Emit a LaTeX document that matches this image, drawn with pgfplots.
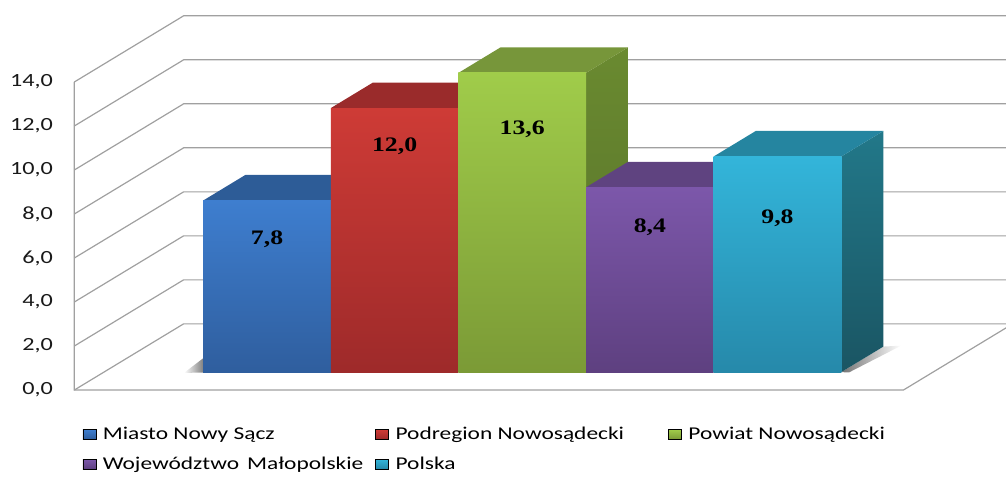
\documentclass[border=0pt]{standalone}
\usepackage{pgfplots}
\pgfplotsset{compat=1.18}
\usepackage{pgfplotstable}
\usepackage{fontspec}
\setmainfont{Carlito}[FakeStretch=1.3]
\newfontfamily\labfont{Liberation Serif}[FakeStretch=1.25]

% front top / front bottom / top face / side top / side bottom
\definecolor{fT0}{HTML}{3E7ECF}\definecolor{fB0}{HTML}{2F5E9E}\definecolor{tp0}{HTML}{2D5C97}\definecolor{sT0}{HTML}{2A5590}\definecolor{sB0}{HTML}{1F3F6E}
\definecolor{fT1}{HTML}{CE3B36}\definecolor{fB1}{HTML}{9E2A2A}\definecolor{tp1}{HTML}{9A2B2B}\definecolor{sT1}{HTML}{8A2626}\definecolor{sB1}{HTML}{6A1C1C}
\definecolor{fT2}{HTML}{A0CC4A}\definecolor{fB2}{HTML}{7B9A36}\definecolor{tp2}{HTML}{77963A}\definecolor{sT2}{HTML}{6A8A30}\definecolor{sB2}{HTML}{56702A}
\definecolor{fT3}{HTML}{7C57AA}\definecolor{fB3}{HTML}{5E4080}\definecolor{tp3}{HTML}{5F4380}\definecolor{sT3}{HTML}{553A75}\definecolor{sB3}{HTML}{402C58}
\definecolor{fT4}{HTML}{33B5DA}\definecolor{fB4}{HTML}{2689AA}\definecolor{tp4}{HTML}{2585A0}\definecolor{sT4}{HTML}{227889}\definecolor{sB4}{HTML}{1A5563}
\definecolor{gridc}{HTML}{A0A0A0}

% bar values and label heights (front-plane units)
\pgfplotstableread{
x      v     ly     lab
1.511  7.8   6.86   7,8
2.511  12.0  11.10  12,0
3.511  13.6  11.86  13,6
4.511  8.4   7.40   8,4
5.511  9.8   7.80   9,8
}\bars

\def\barx{1.011}  % left edge of first bar
\def\ybase{0.818} % bar bottom in front-plane units
\def\dx{0.33}     % bar depth
\def\dy{1.16}
\def\wx{0.857}    % wall depth
\def\wy{3.01}

\begin{document}
\begin{tikzpicture}
\begin{axis}[
  x=63.8pt, y=11pt,
  xmin=-0.58, xmax=7.30, ymin=-3.64, ymax=17.73,
  axis line style={draw=none},
  major tick length=0pt,
  xtick=\empty,
  ytick={0,2,4,6,8,10,12,14},
  /pgf/number format/.cd, fixed, fixed zerofill, precision=1, use comma, assume math mode=true,
  /pgfplots/.cd,
  yticklabel style={font=\fontsize{9.3}{10}\selectfont, anchor=east, inner sep=0pt, xshift=26.5pt, text=black!90},
  legend columns=3,
  legend style={draw=none, fill=none, at={(axis description cs:0.0815,0.102)}, anchor=north west,
    inner sep=0pt, font=\fontsize{9}{10}\selectfont, row sep=3.2pt,
    /tikz/every even column/.append style={column sep=0pt}},
  legend cell align=left,
  legend image code/.code={\path[#1] (0pt,-2.4pt) rectangle (6.5pt,2.4pt);},
]
% walls and floor
\pgfplotsinvokeforeach{0,2,4,6,8,10,12,14}{
  \draw[gridc, line width=0.6pt] (axis cs:0,#1) -- (axis cs:\wx,{#1+\wy}) -- (axis cs:7.5,{#1+\wy});
}
\draw[gridc, line width=0.6pt] (axis cs:0,14) -- (axis cs:0,0) -- (axis cs:6.497,0) -- (axis cs:7.354,\wy);

% soft floor shadows
\addplot[forget plot, draw=none, left color=black!55, right color=white] coordinates {(6.011,0.818) (6.341,1.978) (6.48,2.02) (6.07,0.80)};
\addplot[forget plot, draw=none, left color=white, right color=black!50] coordinates {(1.011,0.80) (0.86,0.78) (1.011,1.45)};

% bars: side, top, front
\pgfplotsinvokeforeach{0,1,2,3,4}{
  \pgfplotstablegetelem{#1}{v}\of\bars
  \pgfmathsetmacro\yt{\ybase+\pgfplotsretval}
  \pgfmathsetmacro\xl{\barx+#1}
  \pgfmathsetmacro\xr{\xl+1}
  \pgfmathsetmacro\xld{\xl+\dx}
  \pgfmathsetmacro\xrd{\xr+\dx}
  \pgfmathsetmacro\ytd{\yt+\dy}
  \pgfmathsetmacro\ybd{\ybase+\dy}
  \addplot[forget plot, draw=none, top color=sT#1, bottom color=sB#1] coordinates {(\xr,\ybase) (\xrd,\ybd) (\xrd,\ytd) (\xr,\yt)};
  \addplot[forget plot, draw=none, fill=tp#1] coordinates {(\xl,\yt) (\xr,\yt) (\xrd,\ytd) (\xld,\ytd)};
  \addplot[forget plot, draw=none, top color=fT#1, bottom color=fB#1] coordinates {(\xl,\ybase) (\xr,\ybase) (\xr,\yt) (\xl,\yt)};
}
% data labels
\addplot[forget plot, draw=none, mark=none, nodes near coords, point meta=explicit symbolic,
  nodes near coords style={font=\labfont\bfseries\fontsize{10.3}{12}\selectfont, anchor=center, text=black}]
  table[x=x, y=ly, meta=lab]{\bars};

\addlegendimage{top color=fT0, bottom color=fB0}\addlegendentry{\makebox[135.5pt][l]{\hspace{1.2pt}Miasto Nowy Sącz}}
\addlegendimage{top color=fT1, bottom color=fB1}\addlegendentry{\makebox[135.5pt][l]{\hspace{1.2pt}Podregion Nowosądecki}}
\addlegendimage{top color=fT2, bottom color=fB2}\addlegendentry{\makebox[135.5pt][l]{\hspace{1.2pt}Powiat Nowosądecki}}
\addlegendimage{top color=fT3, bottom color=fB3}\addlegendentry{\makebox[135.5pt][l]{\hspace{1.2pt}Województwo\hspace{0.45em}Małopolskie}}
\addlegendimage{top color=fT4, bottom color=fB4}\addlegendentry{\makebox[135.5pt][l]{\hspace{1.2pt}Polska}}
\end{axis}
\end{tikzpicture}
\end{document}
